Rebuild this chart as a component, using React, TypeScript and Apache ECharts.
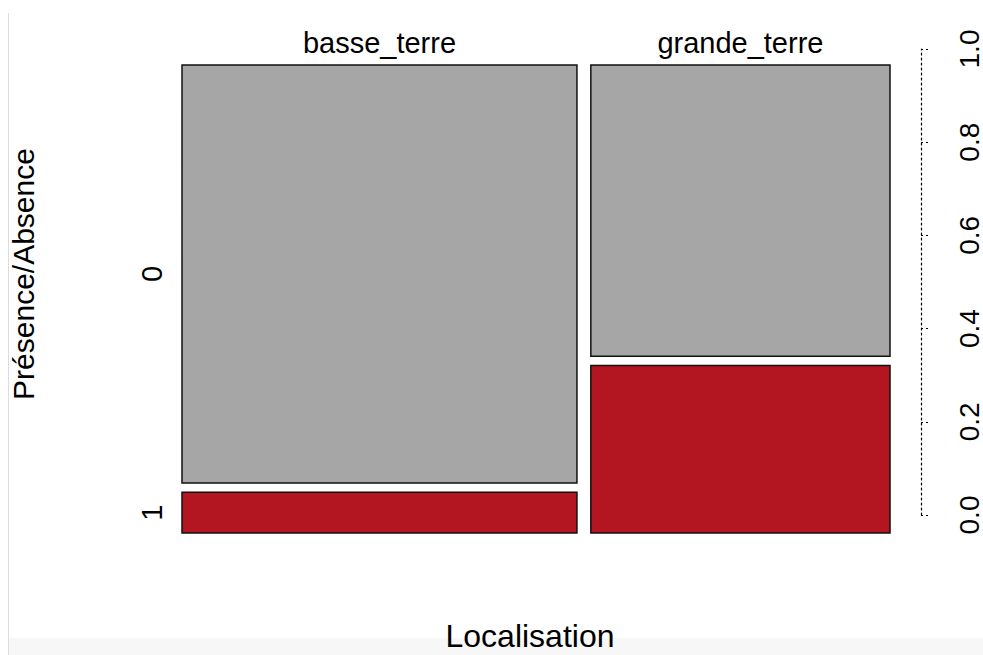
import React, { useEffect, useRef } from "react";
import * as echarts from "echarts";

// Spine plot of Présence/Absence by Localisation
const categories = ["basse_terre", "grande_terre"];
const levels = ["0", "1"];
// share of observations in each locality (column widths)
const columnShare = [0.569, 0.431];
// share of "1" (presence) inside each locality
const presenceShare = [0.089, 0.365];
const rightTicks = [0, 0.2, 0.4, 0.6, 0.8, 1.0];
const OFF = 0.02; // spacing between tiles, in axis units

const FONT = "'Liberation Sans', Arial, Helvetica, sans-serif";
const GREY = "#a6a6a6";
const RED = "#b31521";

type Tile = [number, number, number, number, number, number];

function buildTiles(): Tile[] {
  const tiles: Tile[] = [];
  let cum = 0;
  categories.forEach((_, i) => {
    const x0 = cum + i * OFF;
    const x1 = x0 + columnShare[i];
    const p = presenceShare[i];
    // level "1" sits at the bottom, level "0" above it
    tiles.push([x0, x1, 0, p, i, 1]);
    tiles.push([x0, x1, p + OFF, 1 + OFF, i, 0]);
    cum += columnShare[i];
  });
  return tiles;
}

export default function App() {
  const ref = useRef<HTMLDivElement>(null);

  useEffect(() => {
    document.body.style.margin = "0";
    if (!ref.current) return;
    const chart = echarts.init(ref.current, null, { renderer: "svg" });
    const tiles = buildTiles();
    const xMax = 1 + OFF * (categories.length - 1);
    const yMax = 1 + OFF * (levels.length - 1);

    chart.setOption({
      animation: false,
      backgroundColor: "#ffffff",
      grid: [
        { left: 182, right: 93, top: 65, bottom: 122 },
        { left: 880, right: 53, top: 49, bottom: 140 },
      ],
      xAxis: [
        { gridIndex: 0, type: "value", min: 0, max: xMax, show: false },
        { gridIndex: 1, type: "value", min: 0, max: 1, show: false },
      ],
      yAxis: [
        { gridIndex: 0, type: "value", min: 0, max: yMax, show: false },
        {
          gridIndex: 1,
          type: "value",
          position: "right",
          min: 0,
          max: 1,
          interval: 0.2,
          splitLine: { show: false },
          axisLine: {
            show: true,
            onZero: false,
            lineStyle: { color: "#000", width: 1.2, type: [2, 3] },
          },
          axisTick: {
            show: true,
            inside: false,
            length: 10,
            lineStyle: { color: "#000", width: 1.2, type: [2, 3] },
          },
          axisLabel: {
            show: true,
            rotate: 90,
            margin: 34,
            fontSize: 28,
            fontFamily: FONT,
            color: "#000",
            showMinLabel: true,
            showMaxLabel: true,
            formatter: (v: number) =>
              rightTicks.some((t) => Math.abs(t - v) < 1e-9) ? v.toFixed(1) : "",
          },
        },
      ],
      graphic: [
        {
          type: "rect",
          silent: true,
          shape: { x: 9, y: 638, width: 974, height: 17 },
          style: { fill: "#f7f7f7" },
        },
        {
          type: "line",
          silent: true,
          shape: { x1: 8.5, y1: 13, x2: 8.5, y2: 655 },
          style: { stroke: "#d9dce3", lineWidth: 1 },
        },
        {
          type: "text",
          x: 530,
          y: 636,
          style: {
            text: "Localisation",
            font: `32px ${FONT}`,
            fill: "#000",
            align: "center",
            verticalAlign: "middle",
          },
        },
        {
          type: "text",
          x: 23,
          y: 274,
          rotation: Math.PI / 2,
          style: {
            text: "Présence/Absence",
            font: `30px ${FONT}`,
            fill: "#000",
            align: "center",
            verticalAlign: "middle",
          },
        },
      ],
      series: [
        {
          type: "custom",
          xAxisIndex: 0,
          yAxisIndex: 0,
          data: tiles,
          renderItem: (params: any, api: any) => {
            const x0 = api.value(0);
            const x1 = api.value(1);
            const y0 = api.value(2);
            const y1 = api.value(3);
            const col = api.value(4);
            const lvl = api.value(5);
            const bl = api.coord([x0, y0]);
            const tr = api.coord([x1, y1]);
            const children: any[] = [
              {
                type: "rect",
                shape: {
                  x: bl[0],
                  y: tr[1],
                  width: tr[0] - bl[0],
                  height: bl[1] - tr[1],
                },
                style: {
                  fill: lvl === 1 ? RED : GREY,
                  stroke: "#111111",
                  lineWidth: 1.5,
                },
              },
            ];
            if (lvl === 0) {
              children.push({
                type: "text",
                x: (bl[0] + tr[0]) / 2,
                y: tr[1] - 22,
                style: {
                  text: categories[col],
                  font: `29px ${FONT}`,
                  fill: "#000",
                  align: "center",
                  verticalAlign: "middle",
                },
              });
            }
            if (col === 0) {
              children.push({
                type: "text",
                x: bl[0] - 30,
                y: (bl[1] + tr[1]) / 2,
                rotation: Math.PI / 2,
                style: {
                  text: levels[lvl],
                  font: `29px ${FONT}`,
                  fill: "#000",
                  align: "center",
                  verticalAlign: "middle",
                },
              });
            }
            return { type: "group", children };
          },
        },
      ],
    });

    return () => chart.dispose();
  }, []);

  return <div ref={ref} style={{ width: 983, height: 655 }} />;
}
